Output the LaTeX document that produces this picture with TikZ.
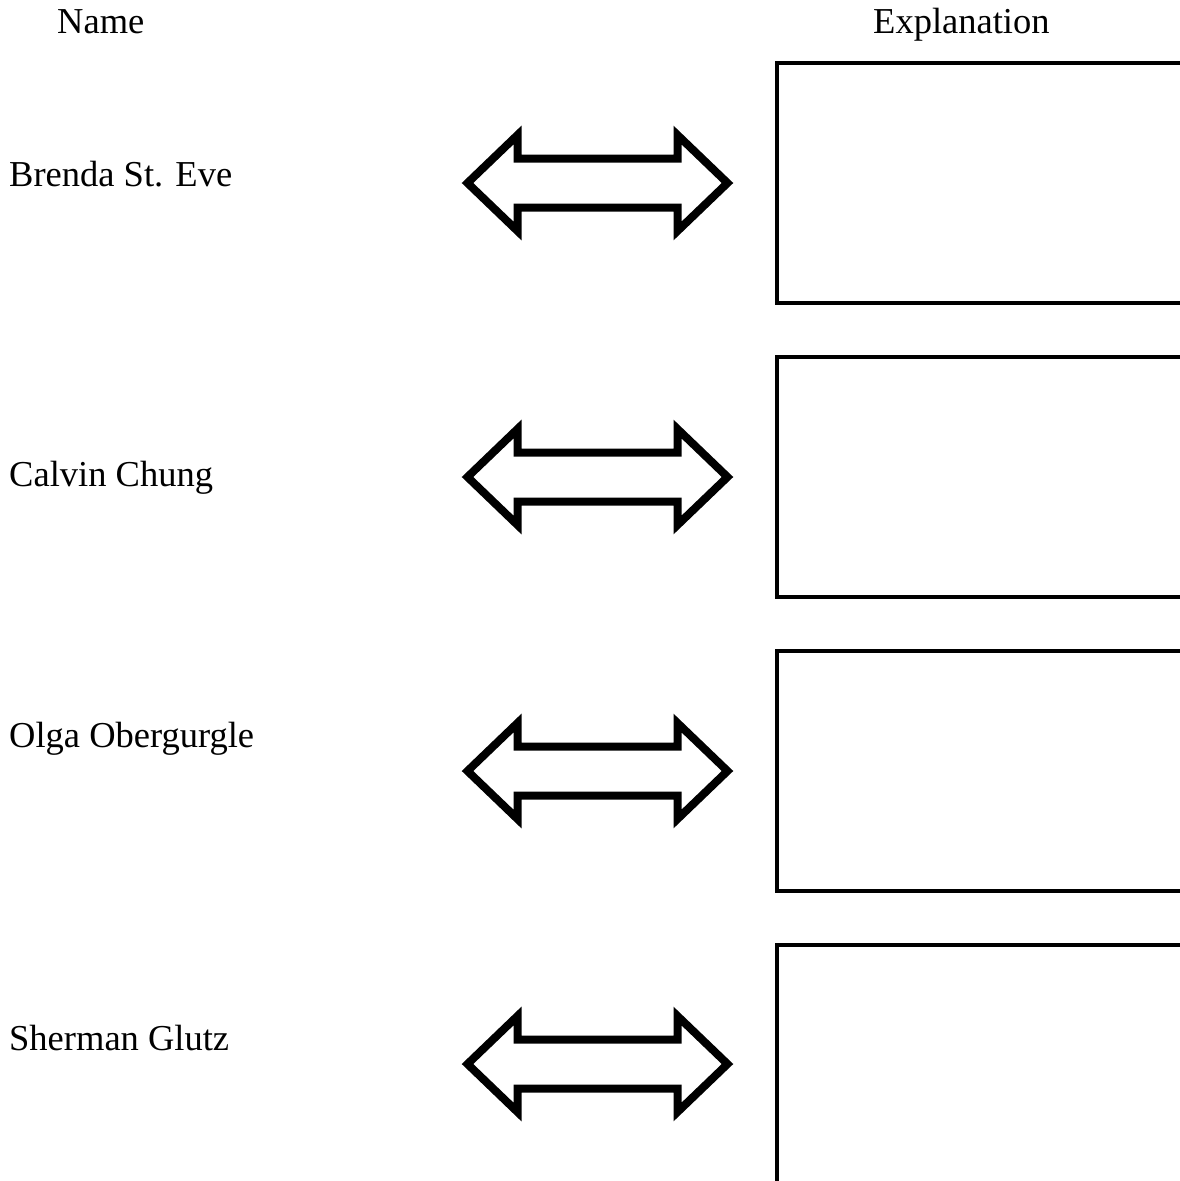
\documentclass[tikz,border=0pt]{standalone}
\usepackage{fontspec}
\setmainfont{Liberation Serif}
\begin{document}
\begin{tikzpicture}[x=1pt,y=-1pt,
  lbl/.style={anchor=base west,inner sep=0pt,font=\fontsize{36.5}{44}\selectfont},
  expbox/.style={draw=black,line width=4pt,line join=miter},
  dblarrow/.pic={
    \draw[line width=8pt,line join=miter]
      (-130,0) -- (-80,-48) -- (-80,-24.5) -- (80,-24.5) -- (80,-48)
      -- (130,0) -- (80,48) -- (80,24.5) -- (-80,24.5) -- (-80,48) -- cycle;
  }]
\useasboundingbox (0,0) rectangle (1180,1181);
\clip (0,0) rectangle (1180,1181);
% headers
\node[lbl] (hname) at (57,33) {Name};
\node[lbl] (hexp) at (873,33) {Explanation};
% names
\node[lbl] (n1) at (9,186) {Brenda St. Eve};
\node[lbl] (n2) at (9,486) {Calvin Chung};
\node[lbl] (n3) at (9,747) {Olga Obergurgle};
\node[lbl] (n4) at (9,1050) {Sherman Glutz};
% arrows
\pic (a1) at (597.5,183) {dblarrow};
\pic (a2) at (597.5,477) {dblarrow};
\pic (a3) at (597.5,771) {dblarrow};
\pic (a4) at (597.5,1064) {dblarrow};
% boxes
\draw[expbox] (777,63) rectangle (1200,303);
\draw[expbox] (777,357) rectangle (1200,597);
\draw[expbox] (777,651) rectangle (1200,891);
\draw[expbox] (777,945) rectangle (1200,1200);
\end{tikzpicture}
\end{document}
